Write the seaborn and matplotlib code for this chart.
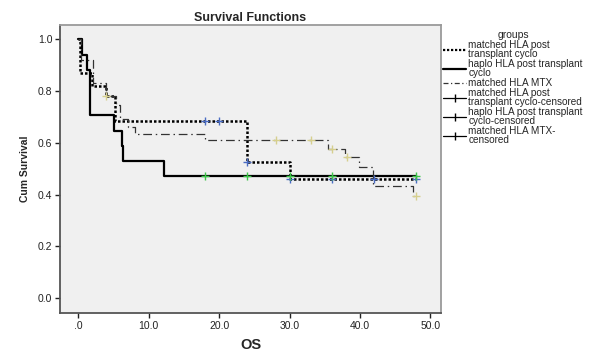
import numpy as np
import pandas as pd
import matplotlib
matplotlib.use("Agg")
import matplotlib.pyplot as plt
from matplotlib.lines import Line2D
import seaborn as sns

# Kaplan-Meier step curves (time in months, cum survival)
group_names = ["matched HLA post transplant cyclo",
               "haplo HLA post transplant cyclo",
               "matched HLA MTX"]

ptcy_times = [0, 0.3, 2.0, 4.0, 5.2, 24.0, 30.0, 48.0]
ptcy_surv = [1.0, 0.87, 0.82, 0.78, 0.685, 0.526, 0.46, 0.46]

haplo_times = [0, 0.5, 1.2, 1.7, 5.0, 6.15, 6.35, 12.1, 48.0]
haplo_surv = [1.0, 0.94, 0.88, 0.706, 0.647, 0.588, 0.53, 0.472, 0.472]

mtx_times = [0, 0.4, 2.1, 4.0, 5.3, 5.9, 7.1, 8.0, 18.0, 35.5, 37.8, 39.9, 41.9, 47.5, 48.0]
mtx_surv = [1.0, 0.92, 0.83, 0.78, 0.745, 0.69, 0.66, 0.635, 0.61, 0.576, 0.543, 0.505, 0.432, 0.396, 0.396]

# censored observations
ptcy_cens_t = [18.0, 20.0, 24.0, 30.0, 36.0, 42.0, 48.0]
ptcy_cens_s = [0.685, 0.685, 0.526, 0.46, 0.46, 0.46, 0.46]
haplo_cens_t = [18.0, 24.0, 30.0, 36.0, 48.0]
haplo_cens_s = [0.472, 0.472, 0.472, 0.472, 0.472]
mtx_cens_t = [4.0, 28.0, 33.0, 36.0, 38.2, 48.0]
mtx_cens_s = [0.78, 0.61, 0.61, 0.576, 0.543, 0.396]

x_ticks = [0, 10, 20, 30, 40, 50]
x_ticklabels = [".0", "10.0", "20.0", "30.0", "40.0", "50.0"]
y_ticks = [0.0, 0.2, 0.4, 0.6, 0.8, 1.0]

legend_labels = ["matched HLA post\ntransplant cyclo",
                 "haplo HLA post transplant\ncyclo",
                 "matched HLA MTX",
                 "matched HLA post\ntransplant cyclo-censored",
                 "haplo HLA post transplant\ncyclo-censored",
                 "matched HLA MTX-\ncensored"]

sns.set_style("white")
plt.rcParams["font.family"] = ["Liberation Sans", "DejaVu Sans"]

curves = [
    (ptcy_times, ptcy_surv, dict(color="black", lw=1.8, linestyle=(0, (1.0, 0.8)))),
    (haplo_times, haplo_surv, dict(color="black", lw=1.6, linestyle="-")),
    (mtx_times, mtx_surv, dict(color="#333333", lw=0.9, linestyle=(0, (7, 3, 1.2, 3)))),
]
censors = [
    (ptcy_cens_t, ptcy_cens_s, "#4a6cc4"),
    (haplo_cens_t, haplo_cens_s, "#3dc64a"),
    (mtx_cens_t, mtx_cens_s, "#d6cf8e"),
]

fig = plt.figure(figsize=(6.01, 3.55), dpi=100)
ax = fig.add_axes([60 / 601, 1 - 313 / 355, 381 / 601, 288 / 355])
ax.set_facecolor("#f0f0f0")

for name, (t, s, style) in zip(group_names, curves):
    df = pd.DataFrame({"OS": t, "surv": s})
    sns.lineplot(data=df, x="OS", y="surv", ax=ax, estimator=None,
                 drawstyle="steps-post", **style)

for (t, s, col) in censors:
    df = pd.DataFrame({"OS": t, "surv": s})
    sns.scatterplot(data=df, x="OS", y="surv", ax=ax, marker="+", s=26,
                    color=col, linewidth=1.0, zorder=5)

ax.set_xlim(-2.6, 51.5)
ax.set_ylim(-0.057, 1.054)
ax.set_xticks(x_ticks)
ax.set_xticklabels(x_ticklabels)
ax.set_yticks(y_ticks)
ax.set_yticklabels([f"{v:.1f}" for v in y_ticks])
ax.tick_params(axis="both", labelsize=7.5, colors="#222222", direction="out",
               length=3.5, width=1, pad=2, left=True, bottom=True)

for side in ["left", "bottom"]:
    ax.spines[side].set_color("#555555")
    ax.spines[side].set_linewidth(1.3)
for side in ["top", "right"]:
    ax.spines[side].set_color("#9a9a9a")
    ax.spines[side].set_linewidth(1.3)

ax.set_xlabel("OS", fontsize=10.5, fontweight="bold", labelpad=5)
ax.set_ylabel("Cum Survival", fontsize=7.5, fontweight="bold", labelpad=6)
ax.set_title("Survival Functions", fontsize=9, fontweight="bold", pad=3)

handles = [
    Line2D([], [], color="black", lw=1.6, linestyle=(0, (1.0, 0.8))),
    Line2D([], [], color="black", lw=1.6),
    Line2D([], [], color="#333333", lw=0.9, linestyle=(0, (4, 2, 1, 2))),
    Line2D([], [], color="black", lw=0.9, marker="|", markersize=6),
    Line2D([], [], color="black", lw=0.9, marker="|", markersize=6),
    Line2D([], [], color="black", lw=0.9, marker="|", markersize=6),
]
leg = fig.legend(handles, legend_labels, title="groups", loc="upper left",
                 bbox_to_anchor=(441 / 601, 1 - 28 / 355), frameon=False,
                 fontsize=7.2, title_fontsize=7.5, handlelength=2.3,
                 handletextpad=0.25, labelspacing=0.02, borderaxespad=0,
                 borderpad=0.2)
for txt in leg.get_texts():
    txt.set_linespacing(0.85)

fig.savefig("out.png", dpi=100)
